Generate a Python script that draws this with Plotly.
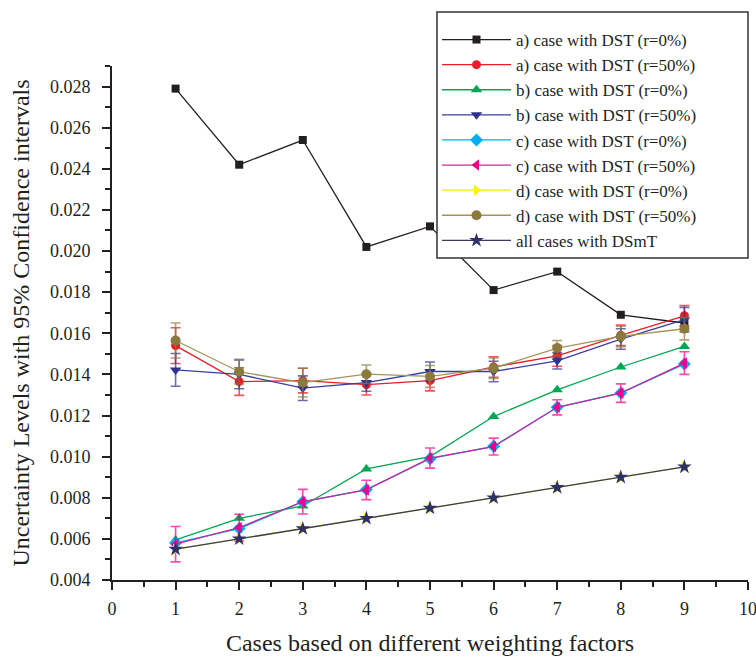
import plotly.graph_objects as go

cases = [1, 2, 3, 4, 5, 6, 7, 8, 9]

a_r0 = [0.0279, 0.0242, 0.0254, 0.0202, 0.0212, 0.0181, 0.0190, 0.0169, 0.0165]
a_r50 = [0.0154, 0.01365, 0.0137, 0.0135, 0.0137, 0.01436, 0.0149, 0.0159, 0.01685]
a_r50_err = [0.00087, 0.00067, 0.0006, 0.0005, 0.0005, 0.0005, 0.0005, 0.0005, 0.0005]
b_r0 = [0.00595, 0.0070, 0.0076, 0.0094, 0.0100, 0.01195, 0.01325, 0.01436, 0.01536]
b_r50 = [0.01422, 0.0140, 0.01333, 0.0136, 0.01414, 0.01414, 0.01466, 0.01572, 0.01666]
b_r50_err = [0.0008, 0.0007, 0.0006, 0.00042, 0.00046, 0.0005, 0.0004, 0.0005, 0.0006]
c_r0 = [0.0058, 0.0065, 0.0078, 0.0084, 0.0099, 0.0105, 0.0124, 0.0131, 0.0145]
c_r50 = [0.00574, 0.00655, 0.00781, 0.00838, 0.00993, 0.01049, 0.0124, 0.01309, 0.01455]
c_r50_err = [0.00086, 0.00065, 0.0006, 0.00047, 0.00049, 0.00041, 0.00037, 0.00045, 0.00055]
d_r0 = [0.0055, 0.0060, 0.0065, 0.0070, 0.0075, 0.0080, 0.0085, 0.0090, 0.0095]
d_r50 = [0.01565, 0.01413, 0.0136, 0.01401, 0.0139, 0.0143, 0.01528, 0.01585, 0.01622]
d_r50_err = [0.00085, 0.0006, 0.0007, 0.00045, 0.00053, 0.0005, 0.00037, 0.0005, 0.00054]
dsmt = [0.0055, 0.0060, 0.0065, 0.0070, 0.0075, 0.0080, 0.0085, 0.0090, 0.0095]

names = [
    "a) case with DST (r=0%)",
    "a) case with DST (r=50%)",
    "b) case with DST (r=0%)",
    "b) case with DST (r=50%)",
    "c) case with DST (r=0%)",
    "c) case with DST (r=50%)",
    "d) case with DST (r=0%)",
    "d) case with DST (r=50%)",
    "all cases with DSmT",
]

FONT = "Liberation Serif, Times New Roman, serif"

series = [
    (a_r0, None, "#231F20", "#231F20", "square", 8),
    (a_r50, a_r50_err, "#ED1C24", "#ED1C24", "circle", 9),
    (b_r0, None, "#00A651", "#00A651", "triangle-up", 10),
    (b_r50, b_r50_err, "#3A3F9E", "#2E3192", "triangle-down", 10),
    (c_r0, None, "#00AEEF", "#00AEEF", "diamond", 10),
    (c_r50, c_r50_err, "#C42AA0", "#EC008C", "triangle-left", 10),
    (d_r0, None, "#F5E800", "#FFF200", "triangle-right", 10),
    (d_r50, d_r50_err, "#A39457", "#8C7A3C", "circle", 10),
    (dsmt, None, "#3A3A5E", "#2E3168", "star", 11),
]

err_colors = {
    1: "rgba(237,28,36,0.75)",
    3: "rgba(46,49,146,0.7)",
    5: "rgba(236,0,140,0.7)",
    7: "rgba(140,122,60,0.7)",
}

fig = go.Figure()
for i, (vals, errs, lc, mc, sym, ms) in enumerate(series):
    kw = {}
    if errs is not None:
        kw["error_y"] = dict(type="data", array=errs, visible=True,
                             color=err_colors[i], thickness=1.6, width=5)
    fig.add_trace(go.Scatter(
        x=cases, y=vals, name=names[i], mode="lines+markers",
        line=dict(color=lc, width=1.3),
        marker=dict(color=mc, symbol=sym, size=ms, line=dict(width=0)),
        **kw,
    ))

# legend frame (white box drawn above the traces, legend entries on top)
fig.add_shape(type="rect", xref="paper", yref="paper",
              x0=0.511, x1=1.0, y0=0.6265, y1=1.105,
              fillcolor="white", line=dict(color="#333333", width=1.5),
              layer="above")

fig.update_layout(
    width=756, height=656,
    margin=dict(l=112, r=8, t=66, b=76, autoexpand=False),
    paper_bgcolor="white", plot_bgcolor="white",
    font=dict(family=FONT, color="#231F20", size=18),
    showlegend=True,
    legend=dict(
        x=0.511, y=1.0856, xanchor="left", yanchor="top",
        bgcolor="rgba(0,0,0,0)", borderwidth=0,
        font=dict(family=FONT, size=17, color="#231F20"),
        itemwidth=69, tracegroupgap=0,
    ),
)

fig.update_xaxes(
    range=[0, 10], dtick=1, tick0=0, automargin=False,
    showline=True, linecolor="#231F20", linewidth=2,
    ticks="outside", ticklen=8, tickwidth=2, tickcolor="#231F20",
    minor=dict(ticks="outside", ticklen=5, tickwidth=2, dtick=0.5, tickcolor="#231F20"),
    showgrid=False, zeroline=False, ticklabeloverflow="allow",
    tickfont=dict(family=FONT, size=18), ticklabelstandoff=3,
    title=dict(text="Cases based on different weighting factors",
               font=dict(family=FONT, size=24), standoff=21),
)
fig.update_yaxes(
    range=[0.004, 0.029], dtick=0.002, tick0=0.004, tickformat=".3f",
    automargin=False,
    showline=True, linecolor="#231F20", linewidth=2,
    ticks="outside", ticklen=8, tickwidth=2, tickcolor="#231F20",
    minor=dict(ticks="outside", ticklen=5, tickwidth=2, dtick=0.001, tickcolor="#231F20"),
    showgrid=False, zeroline=False,
    tickfont=dict(family=FONT, size=18), ticklabelstandoff=8,
    title=dict(text="Uncertainty Levels with 95% Confidence intervals",
               font=dict(family=FONT, size=24), standoff=14),
)

fig.write_html("out.html",
               config={"displayModeBar": False},
               post_script="document.body.style.margin='0';document.body.style.overflow='hidden';")
